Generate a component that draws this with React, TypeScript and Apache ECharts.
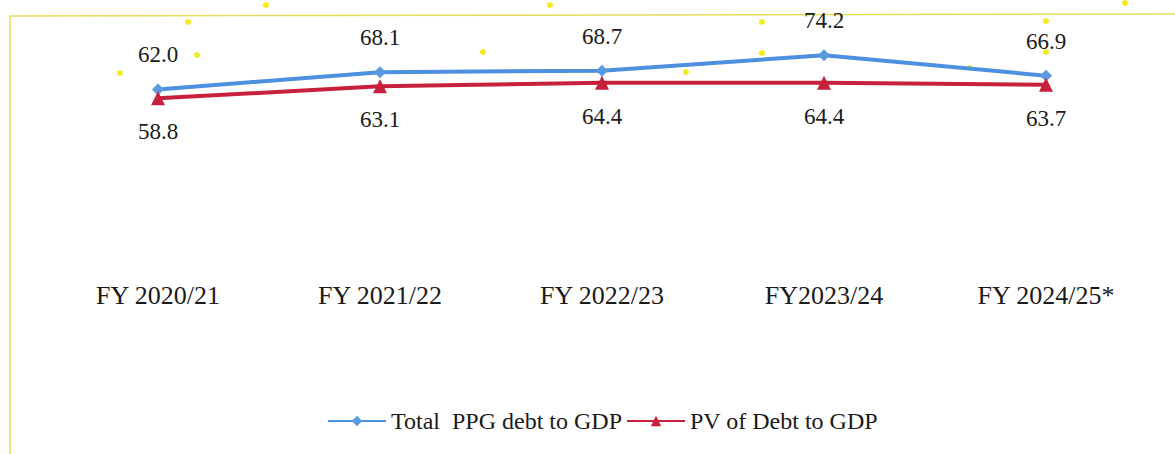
import React, { useEffect, useRef } from "react";
import * as echarts from "echarts";

const categories = ["FY 2020/21", "FY 2021/22", "FY 2022/23", "FY2023/24", "FY 2024/25*"];
const totalPPG = [62.0, 68.1, 68.7, 74.2, 66.9];
const pvDebt = [58.8, 63.1, 64.4, 64.4, 63.7];

const dots = [
  [188, 22], [266, 5], [197, 55], [120, 73], [483, 52], [550, 5], [686, 72],
  [762, 22], [762, 53], [970, 68], [1046, 21], [1046, 52], [1125, 3],
];

export default function App() {
  const ref = useRef<HTMLDivElement>(null);
  useEffect(() => {
    const chart = echarts.init(ref.current!, null, { renderer: "svg" });
    const font = "Liberation Serif";
    chart.setOption({
      animation: false,
      backgroundColor: "#ffffff",
      textStyle: { fontFamily: font },
      grid: { left: 47, right: 18, top: 39, height: 224 },
      xAxis: {
        type: "category",
        data: categories,
        boundaryGap: true,
        axisLine: { show: false },
        axisTick: { show: false },
        axisLabel: { color: "#1a1a1a", fontSize: 26, fontFamily: font, margin: 19 },
      },
      yAxis: {
        type: "value",
        min: 0,
        max: 80,
        show: false,
        splitLine: { show: false },
      },
      legend: {
        bottom: 16,
        left: 322,
        itemWidth: 58,
        itemHeight: 13,
        itemGap: 4,
        textStyle: { color: "#1a1a1a", fontSize: 24, fontFamily: font },
        data: ["Total  PPG debt to GDP", "PV of Debt to GDP"],
      },
      series: [
        {
          name: "Total  PPG debt to GDP",
          type: "line",
          data: totalPPG,
          color: "#4d8fe0",
          lineStyle: { width: 4, color: "#4d8fe0" },
          symbol: "diamond",
          symbolSize: 12,
          itemStyle: { color: "#5a9ae0" },
          label: {
            show: true,
            position: "top",
            distance: 17,
            color: "#1a1a1a",
            fontSize: 23,
            fontFamily: font,
            formatter: (p: any) => p.value.toFixed(1),
          },
        },
        {
          name: "PV of Debt to GDP",
          type: "line",
          data: pvDebt,
          color: "#c8203c",
          lineStyle: { width: 4, color: "#c8203c" },
          symbol: "triangle",
          symbolSize: 14,
          itemStyle: { color: "#c8203c" },
          label: {
            show: true,
            position: "bottom",
            distance: 15,
            color: "#1a1a1a",
            fontSize: 23,
            fontFamily: font,
            formatter: (p: any) => p.value.toFixed(1),
          },
        },
      ],
      graphic: [
        {
          type: "polyline",
          shape: { points: [[10, 454], [10, 16], [1175, 14]] },
          style: { stroke: "#e6dc5a", lineWidth: 1.5, fill: "none" },
          z: -1,
        },
        ...dots.map(([x, y]) => ({
          type: "circle",
          shape: { cx: x, cy: y, r: 3 },
          style: { fill: "#f2ec1e" },
          z: -1,
        })),
      ],
    });
    return () => chart.dispose();
  }, []);
  return <div ref={ref} style={{ width: 1175, height: 454, position: "absolute", left: 0, top: 0 }} />;
}
